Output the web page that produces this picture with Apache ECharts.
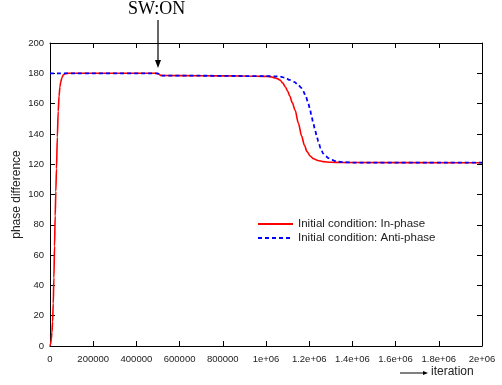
<!DOCTYPE html>
<html>
<head>
<meta charset="utf-8">
<script src="https://cdn.jsdelivr.net/npm/echarts@6/dist/echarts.min.js"></script>
<style>
  html, body { margin: 0; padding: 0; background: #fff; }
  #chart { width: 502px; height: 385px; }
</style>
</head>
<body>
<div id="chart"></div>
<script>
// x = iteration, y = phase difference (degrees)
const inPhaseX = [0, 3000, 6000, 9000, 12000, 15000, 18000, 21000, 24000, 27000, 30000, 34000, 38000,
  42000, 46000, 50000, 55000, 62000, 70000, 80000, 200000, 490000, 500000, 515000, 700000, 900000,
  1000000, 1020000, 1040000, 1055000, 1065000, 1078000, 1090000, 1100000, 1110000, 1122000, 1135000,
  1150000, 1165000, 1178000, 1190000, 1205000, 1220000, 1240000, 1265000, 1300000, 1350000, 2000000];
const inPhaseY = [0, 1.5, 4.5, 9, 16, 28, 45, 66, 86, 102, 117, 138, 155,
  165, 171, 174.5, 177, 179, 179.8, 180, 180, 180, 179.8, 178.5, 178.4, 178.2,
  178, 177.8, 177, 176.3, 175.5, 173.5, 171, 168.3, 165, 160.5, 155.5,
  147, 138.5, 132.5, 128.3, 125.3, 123.6, 122.4, 121.7, 121.3, 121.1, 121];

const antiPhaseX = [0, 490000, 500000, 515000, 700000, 900000, 1000000, 1040000, 1065000, 1090000,
  1110000, 1130000, 1150000, 1162000, 1173000, 1185000, 1196000, 1204000, 1211000, 1219000, 1227000,
  1235000, 1242000, 1253000, 1265000, 1277000, 1289000, 1305000, 1327000, 1360000, 1400000, 2000000];
const antiPhaseY = [180, 180, 179.8, 178.5, 178.4, 178.2, 178.1, 178, 177.8, 177,
  175.6, 174.3, 172.3, 170.5, 168, 164.5, 160, 156, 151.5, 147, 142.5,
  138.5, 135, 130.5, 127, 125.2, 124, 122.8, 121.8, 121.3, 121.1, 121];

const xTickLabels = ["0", "200000", "400000", "600000", "800000", "1e+06",
  "1.2e+06", "1.4e+06", "1.6e+06", "1.8e+06", "2e+06"];
const seriesNames = ["Initial condition: In-phase", "Initial condition: Anti-phase"];

const swOnX = 500000;     // where the switch is turned on
const swOnTipY = 183.5;   // arrow tip, just above the curve

const zip = (xs, ys) => xs.map((x, i) => [x, ys[i]]);
const sans = "Liberation Sans, Arial, sans-serif";

const chart = echarts.init(document.getElementById("chart"));

// ticks point into the plot on all four sides (gnuplot style)
const frameAxis = {
  axisLine: { show: true, onZero: false, lineStyle: { color: "#000", width: 1 } },
  axisTick: { show: true, inside: true, length: 5, lineStyle: { color: "#000", width: 1 } },
  splitLine: { show: false },
};

chart.setOption({
  animation: false,
  backgroundColor: "#fff",
  grid: { left: 50, right: 20, top: 43, bottom: 39, outerBoundsMode: "none" },
  legend: {
    orient: "vertical", left: 252, top: 213, itemWidth: 35, itemHeight: 10, itemGap: 2,
    itemStyle: { opacity: 0 },
    textStyle: { fontFamily: sans, fontSize: 11.5, color: "#222" },
    data: seriesNames,
  },
  xAxis: [
    {
      type: "value", min: 0, max: 2000000, interval: 200000, ...frameAxis,
      axisLabel: { margin: 8, fontFamily: sans, fontSize: 9.5, color: "#222",
        formatter: (v, i) => xTickLabels[i] },
    },
    { type: "value", position: "top", min: 0, max: 2000000, interval: 200000, ...frameAxis,
      axisLabel: { show: false } },
  ],
  yAxis: [
    {
      type: "value", min: 0, max: 200, interval: 20, ...frameAxis,
      name: "phase difference", nameLocation: "middle", nameGap: 27, nameMoveOverlap: false,
      nameTextStyle: { fontFamily: sans, fontSize: 12, color: "#222" },
      axisLabel: { margin: 6, fontFamily: sans, fontSize: 9.5, color: "#222" },
    },
    { type: "value", position: "right", min: 0, max: 200, interval: 20, ...frameAxis,
      axisLabel: { show: false } },
  ],
  series: [
    {
      name: seriesNames[0], type: "line", showSymbol: false, symbol: "none",
      smooth: 0.3, smoothMonotone: "x",
      lineStyle: { color: "#ff0000", width: 1.6 }, itemStyle: { color: "#ff0000" },
      data: zip(inPhaseX, inPhaseY),
    },
    {
      name: seriesNames[1], type: "line", showSymbol: false, symbol: "none",
      smooth: 0.3, smoothMonotone: "x",
      lineStyle: { color: "#0000ff", width: 1.8, type: [4, 3] }, itemStyle: { color: "#0000ff" },
      data: zip(antiPhaseX, antiPhaseY),
    },
  ],
});

// annotations placed through the chart's own scale
const tip = chart.convertToPixel({ gridIndex: 0 }, [swOnX, swOnTipY]);
const ax = tip[0], ay = tip[1];
chart.setOption({
  graphic: [
    { type: "text", left: ax - 30, top: 0,
      style: { text: "SW:ON", font: "18px 'Liberation Serif', 'Times New Roman', serif", fill: "#000" } },
    { type: "line", shape: { x1: ax, y1: 20, x2: ax, y2: ay - 6 }, style: { stroke: "#000", lineWidth: 1.2 } },
    { type: "polygon", shape: { points: [[ax - 3, ay - 8], [ax + 3, ay - 8], [ax, ay]] }, style: { fill: "#000" } },
    { type: "line", shape: { x1: 400, y1: 373, x2: 424, y2: 373 }, style: { stroke: "#000", lineWidth: 1 } },
    { type: "polygon", shape: { points: [[423, 371], [423, 375], [428, 373]] }, style: { fill: "#000" } },
    { type: "text", left: 431, top: 366,
      style: { text: "iteration", font: "12px 'Liberation Sans', Arial, sans-serif", fill: "#222" } },
  ],
});
</script>
</body>
</html>
